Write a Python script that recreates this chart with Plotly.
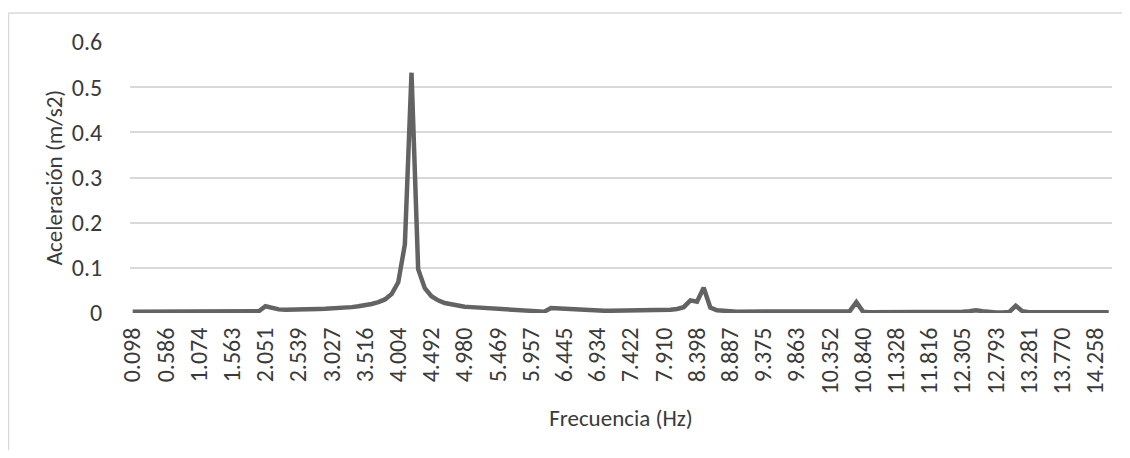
import plotly.graph_objects as go
from decimal import Decimal, ROUND_HALF_UP

# Frequency bins (Hz): FFT resolution 100/1024 Hz, bins 1..148
bin_numbers = list(range(1, 149))
categories = [str(Decimal(k * 100 / 1024).quantize(Decimal("0.001"), rounding=ROUND_HALF_UP)) for k in bin_numbers]

tick_labels = ["0.098", "0.586", "1.074", "1.563", "2.051", "2.539", "3.027", "3.516", "4.004", "4.492",
               "4.980", "5.469", "5.957", "6.445", "6.934", "7.422", "7.910", "8.398", "8.887", "9.375",
               "9.863", "10.352", "10.840", "11.328", "11.816", "12.305", "12.793", "13.281", "13.770", "14.258"]

acceleration = [
    0.003, 0.003, 0.003, 0.003, 0.003, 0.0035, 0.0035, 0.0035, 0.0035, 0.0035,
    0.0035, 0.004, 0.004, 0.004, 0.004, 0.004, 0.004, 0.004, 0.004, 0.004,
    0.015, 0.011, 0.008, 0.007, 0.007, 0.0075, 0.008, 0.0085, 0.009, 0.0095,
    0.010, 0.011, 0.012, 0.013, 0.015, 0.017, 0.020, 0.024, 0.030, 0.042,
    0.068, 0.152, 0.532, 0.097, 0.055, 0.037, 0.028, 0.022, 0.019, 0.016,
    0.014, 0.013, 0.012, 0.011, 0.010, 0.0095, 0.009, 0.008, 0.0075, 0.007,
    0.006, 0.005, 0.003, 0.011, 0.010, 0.009, 0.008, 0.007, 0.006, 0.006,
    0.006, 0.005, 0.005, 0.005, 0.005, 0.005, 0.005, 0.005, 0.005, 0.006,
    0.006, 0.007, 0.009, 0.013, 0.028, 0.025, 0.056, 0.012, 0.006, 0.004,
    0.004, 0.003, 0.003, 0.003, 0.003, 0.003, 0.003, 0.003, 0.003, 0.003,
    0.003, 0.0025, 0.0025, 0.0025, 0.0025, 0.0025, 0.003, 0.003, 0.004, 0.024,
    0.003, 0.0015, 0.0015, 0.0015, 0.0015, 0.0015, 0.0015, 0.0015, 0.0015, 0.0015,
    0.0015, 0.0015, 0.0015, 0.0015, 0.002, 0.003, 0.004, 0.006, 0.004, 0.002,
    0.001, 0.001, 0.002, 0.016, 0.004, 0.0015, 0.0015, 0.0015, 0.0015, 0.0015,
    0.0015, 0.0015, 0.0015, 0.0015, 0.0015, 0.0015, 0.0015, 0.0015,
]

y_ticks = [0, 0.1, 0.2, 0.3, 0.4, 0.5, 0.6]
y_tick_text = ["0", "0.1", "0.2", "0.3", "0.4", "0.5", "0.6"]

FONT = "Calibri, Carlito, Lato, sans-serif"
TXT = "#3a3a3a"

# page has an 8px body margin; figure coordinates are compensated for it
W, H = 1122, 442
L, R, T = 122, 18, 34
PLOT_BOTTOM = 305
B = H - PLOT_BOTTOM
PW = W - L - R
PH = PLOT_BOTTOM - T

fig = go.Figure()
fig.add_trace(go.Scatter(
    x=categories, y=acceleration, mode="lines",
    line=dict(color="#636363", width=4.5, shape="linear"),
    hoverinfo="x+y", showlegend=False,
))

fig.update_layout(
    width=W, height=H,
    margin=dict(l=L, r=R, t=T, b=B),
    paper_bgcolor="white", plot_bgcolor="white",
    font=dict(family=FONT, size=24, color=TXT),
    xaxis=dict(
        type="category",
        categoryorder="array", categoryarray=categories,
        range=[-0.4, len(categories) - 0.5],
        tickmode="array", tickvals=tick_labels, ticktext=tick_labels,
        tickangle=-90, ticks="outside", ticklen=4, tickcolor="rgba(0,0,0,0)",
        showgrid=False, zeroline=False, showline=False,
        tickfont=dict(family=FONT, size=24, color=TXT),
        title=dict(text="Frecuencia (Hz)", font=dict(family=FONT, size=23, color=TXT), standoff=16),
    ),
    yaxis=dict(
        range=[0, 0.6],
        tickmode="array", tickvals=y_ticks, ticktext=y_tick_text,
        ticks="outside", ticklen=22, tickcolor="rgba(0,0,0,0)",
        showgrid=True, gridcolor="#d9d9d9", gridwidth=1.5,
        zeroline=False, showline=False,
        tickfont=dict(family=FONT, size=24, color=TXT),
        title=dict(text="Aceleración (m/s2)", font=dict(family=FONT, size=23, color=TXT), standoff=2),
    ),
)

# outer chart border (top and left visible)
top_y = (PLOT_BOTTOM - 5) / PH
left_x = (0.5 - L) / PW
fig.add_shape(type="line", xref="paper", yref="paper",
              x0=left_x, x1=(W - L) / PW, y0=top_y, y1=top_y,
              line=dict(color="#d9d9d9", width=1.5), layer="below")
fig.add_shape(type="line", xref="paper", yref="paper",
              x0=left_x, x1=left_x, y0=top_y, y1=(PLOT_BOTTOM - H) / PH,
              line=dict(color="#d9d9d9", width=1.5), layer="below")

fig.write_html("out.html")
